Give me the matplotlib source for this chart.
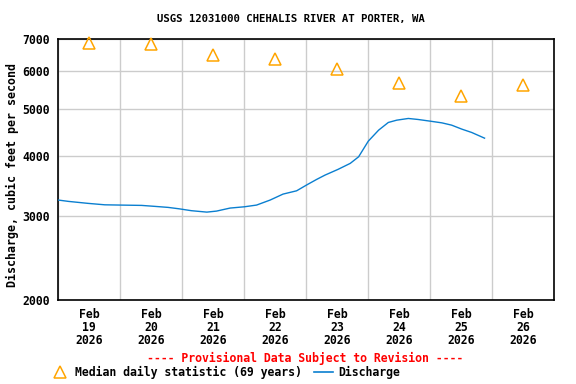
import matplotlib
matplotlib.use("Agg")
import matplotlib.pyplot as plt
import matplotlib.dates as mdates
from matplotlib.lines import Line2D
from matplotlib.ticker import FixedLocator, NullLocator
import pandas as pd

title = "USGS 12031000 CHEHALIS RIVER AT PORTER, WA"
ylabel = "Discharge, cubic feet per second"

discharge_times = [
    "2026-02-19 00:00", "2026-02-19 04:00", "2026-02-19 11:30", "2026-02-19 18:00",
    "2026-02-20 00:00", "2026-02-20 08:15", "2026-02-20 13:30", "2026-02-20 18:30",
    "2026-02-20 22:45", "2026-02-21 03:30", "2026-02-21 09:30", "2026-02-21 13:15",
    "2026-02-21 18:30", "2026-02-22 00:00", "2026-02-22 04:45", "2026-02-22 10:00",
    "2026-02-22 15:00", "2026-02-22 20:15", "2026-02-23 00:15", "2026-02-23 04:00",
    "2026-02-23 07:15", "2026-02-23 12:15", "2026-02-23 17:00", "2026-02-23 20:15",
    "2026-02-24 00:00", "2026-02-24 04:00", "2026-02-24 07:45", "2026-02-24 11:00",
    "2026-02-24 15:30", "2026-02-24 19:15", "2026-02-25 00:00", "2026-02-25 04:30",
    "2026-02-25 08:15", "2026-02-25 12:15", "2026-02-25 16:00", "2026-02-25 21:00",
]
discharge_cfs = [
    3233, 3212, 3182, 3160,
    3156, 3151, 3136, 3121,
    3100, 3072, 3051, 3066,
    3111, 3130, 3156, 3233,
    3327, 3380, 3479, 3570,
    3645, 3746, 3856, 3980,
    4291, 4524, 4694, 4746,
    4785, 4762, 4723, 4685,
    4634, 4545, 4474, 4353,
]

median_days = ["2026-02-19", "2026-02-20", "2026-02-21", "2026-02-22",
               "2026-02-23", "2026-02-24", "2026-02-25", "2026-02-26"]
median_cfs = [6877, 6830, 6500, 6360, 6065, 5670, 5330, 5615]

y_ticks = [2000, 3000, 4000, 5000, 6000, 7000]

FONT = "DejaVu Sans Mono"
plt.rcParams["font.family"] = FONT
plt.rcParams["font.weight"] = "bold"

fig = plt.figure(figsize=(5.76, 3.84), dpi=100)
ax = fig.add_axes([58.3 / 576, 1 - 300 / 384, 496 / 576, (300 - 39.3) / 384])

t = pd.to_datetime(discharge_times)
mt = pd.to_datetime(median_days) + pd.Timedelta(hours=12)

orange = "#FFA500"
blue = "#0A7FD0"

ax.plot(t, discharge_cfs, color=blue, lw=1.0, zorder=3)
ax.plot(mt, median_cfs, linestyle="none", marker="^", markersize=8.5,
        markerfacecolor="none", markeredgecolor=orange, markeredgewidth=1.1,
        clip_on=False, zorder=4)

ax.set_yscale("log")
ax.set_ylim(2000, 7000)
ax.yaxis.set_major_locator(FixedLocator(y_ticks))
ax.yaxis.set_minor_locator(NullLocator())
ax.set_yticklabels([str(v) for v in y_ticks])

start = pd.Timestamp("2026-02-19")
end = pd.Timestamp("2026-02-27")
ax.set_xlim(start, end)
ax.xaxis.set_major_locator(mdates.DayLocator())
ax.xaxis.set_major_formatter(plt.NullFormatter())
days = pd.date_range(start, periods=8, freq="D")
ax.set_xticks(mdates.date2num(days + pd.Timedelta(hours=12)), minor=True)
ax.set_xticklabels([f"Feb\n{d.day}\n2026" for d in days], minor=True)

ax.tick_params(axis="both", which="both", length=0)
ax.tick_params(axis="y", pad=6, labelsize=8.3)
ax.tick_params(axis="x", which="minor", pad=6, labelsize=8.3)
for lab in ax.get_xticklabels(minor=True):
    lab.set_linespacing(1.0)

ax.grid(True, which="major", color="#cccccc", lw=1.0)
ax.set_axisbelow(True)
for s in ax.spines.values():
    s.set_color("black")
    s.set_linewidth(1.2)

fig.text(291 / 576, 1 - 19 / 384, title, ha="center", va="center",
         fontsize=7.7, fontweight="bold")
fig.text(12 / 576, 1 - 175 / 384, ylabel, rotation=90, ha="center", va="center",
         fontsize=8.4, fontweight="bold")
fig.text(305 / 576, 1 - 358 / 384, "---- Provisional Data Subject to Revision ----",
         ha="center", va="center", fontsize=8.3, fontweight="bold", color="red")

handles = [
    Line2D([], [], linestyle="none", marker="^", markersize=8.5,
           markerfacecolor="none", markeredgecolor=orange, markeredgewidth=1.1),
    Line2D([], [], color=blue, lw=1.2),
]
fig.legend(handles, ["Median daily statistic (69 years)", "Discharge"],
           loc="center left", bbox_to_anchor=(51 / 576, 1 - 372 / 384),
           ncol=2, frameon=False, handlelength=1.6,
           handletextpad=0.45, columnspacing=1.1, borderaxespad=0, borderpad=0,
           prop={"family": FONT, "weight": "bold", "size": 8.3})

fig.savefig("out.png", dpi=100)
